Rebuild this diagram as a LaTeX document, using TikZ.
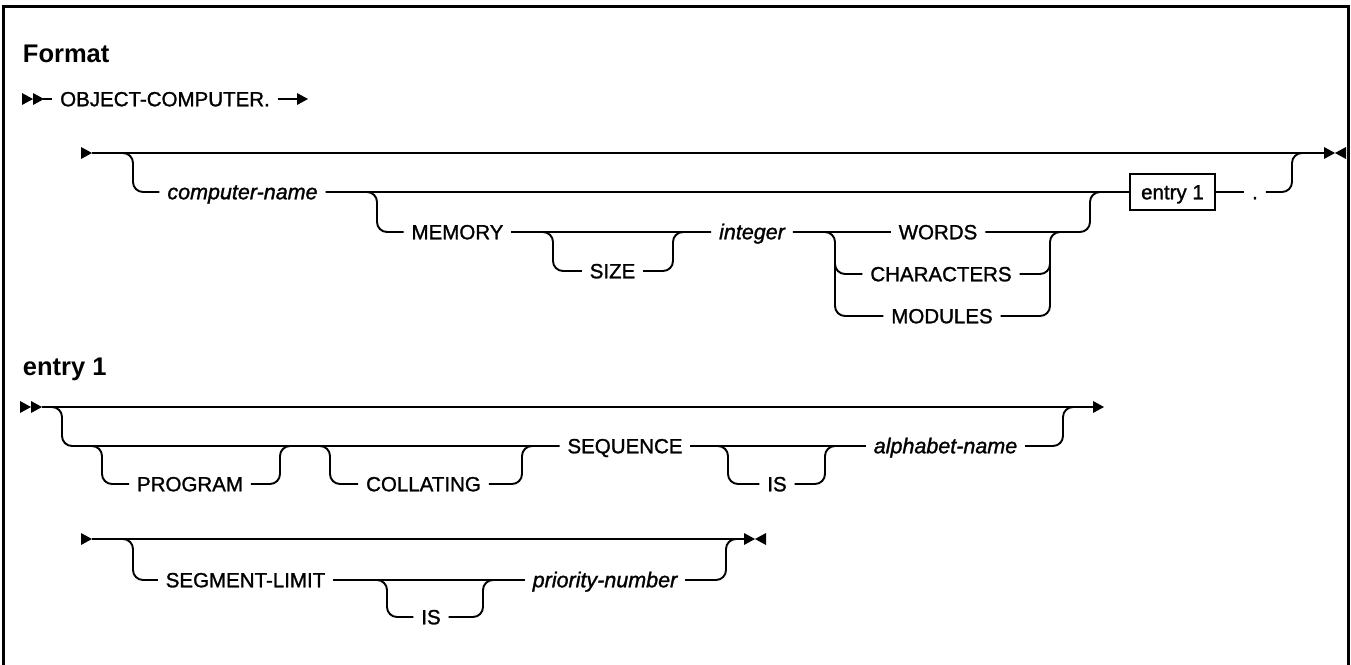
\documentclass[tikz,border=0pt]{standalone}
\usepackage{fontspec}
\setmainfont{Liberation Sans}
\newfontfamily\medfont{Liberation Sans}[FakeBold=1.3]
\begin{document}
\begin{tikzpicture}[x=1pt,y=-1pt,line width=1.9pt,
  lbl/.style={font=\medfont\fontsize{20.5}{24}\selectfont, inner xsep=7pt, inner ysep=0pt, text height=14.5pt, text depth=0pt},
  ilbl/.style={lbl, font=\medfont\fontsize{21.5}{24}\selectfont\itshape},
  head/.style={font=\fontsize{25.5}{30}\selectfont\bfseries, inner sep=0pt, anchor=base west},
  ebox/.style={draw, line width=1.9pt, font=\medfont\fontsize{20.5}{24}\selectfont, inner sep=0pt, minimum width=85pt, minimum height=36pt, text height=14.5pt, text depth=0pt},
  rnd/.style={rounded corners=10pt},
  rtri/.pic={\fill (0,-6) -- (11,0) -- (0,6) -- cycle;},
  ltri/.pic={\fill (11,-6) -- (0,0) -- (11,6) -- cycle;}]
\useasboundingbox (0,0) rectangle (1351,664);
% frame
\draw[line width=3pt] (3.5,675) -- (3.5,6) -- (1348.5,6) -- (1348.5,675);

% ---------- Format ----------
\node[head] (fmt) at (22,62) {Format};
\pic at (22,99) {rtri}; \pic at (33,99) {rtri};
\node[lbl] (oc) at (165,99) {OBJECT-COMPUTER.};
\coordinate (ocs) at (43,99);
\coordinate (oce) at (297,99);
\draw (ocs) -- (oc.west);
\draw (oc.east) -- (oce); \pic at (oce) {rtri};

\pic at (81,153) {rtri};
\coordinate (s1) at (92,153);
\coordinate (e1) at (1324,153);
\draw (s1) -- (e1); \pic at (e1) {rtri}; \pic at (1335,153) {ltri};

\node[ilbl] (cn) at (242.5,192) {computer-name};
\node[ebox] (ebx) at (1172.5,192) {entry 1};
\node[lbl] (mem) at (457.5,232) {MEMORY};
\node[lbl] (size) at (612.5,271) {SIZE};
\node[ilbl] (int) at (752,232) {integer};
\node[lbl] (words) at (938,232) {WORDS};
\node[lbl] (chars) at (941,274) {CHARACTERS};
\node[lbl] (mods) at (942,316) {MODULES};
\node[lbl, minimum width=20pt, inner xsep=0pt] (dot) at (1255,192) {.};

\draw[rnd] (s1) -- (133,153) -- (133,192) -- (cn.west);
\draw (cn.east) -- (ebx.west);
\draw[rnd] (cn.east) -- (377,192) -- (377,232) -- (mem.west);
\draw (mem.east) -- (int.west);
\draw[rnd] (mem.east) -- (553,232) -- (553,271) -- (size.west);
\draw[rnd] (size.east) -- (673,271) -- (673,232) -- (int.west);
\draw (int.east) -- (words.west);
\draw[rnd] (int.east) -- (835,232) -- (835,316) -- (mods.west);
\draw[rnd] (835,250) -- (835,274) -- (chars.west);
\draw[rnd] (mods.east) -- (1050,316) -- (1050,232) -- (1070,232);
\draw[rnd] (chars.east) -- (1050,274) -- (1050,255);
\draw[rnd] (words.east) -- (1090,232) -- (1090,192) -- (ebx.west);
\draw (ebx.east) -- (dot.west);
\draw[rnd] (dot.east) -- (1292,192) -- (1292,153) -- (e1);

% ---------- entry 1 ----------
\node[head] (ent) at (22,375) {entry 1};
\pic at (20,407) {rtri}; \pic at (31,407) {rtri};
\coordinate (s2) at (42,407);
\coordinate (e2) at (1093,407);
\draw (s2) -- (e2); \pic at (e2) {rtri};

\node[lbl] (prog) at (190,484) {PROGRAM};
\node[lbl] (coll) at (423.5,484) {COLLATING};
\node[lbl] (seq) at (625,446) {SEQUENCE};
\node[lbl] (is1) at (777,484) {IS};
\node[ilbl] (alpha) at (945.5,446) {alphabet-name};

\draw[rnd] (s2) -- (62,407) -- (62,446) -- (seq.west);
\draw[rnd] (80,446) -- (102,446) -- (102,484) -- (prog.west);
\draw[rnd] (prog.east) -- (280,484) -- (280,446) -- (300,446);
\draw[rnd] (310,446) -- (330,446) -- (330,484) -- (coll.west);
\draw[rnd] (coll.east) -- (522,484) -- (522,446) -- (540,446);
\draw (seq.east) -- (alpha.west);
\draw[rnd] (seq.east) -- (728,446) -- (728,484) -- (is1.west);
\draw[rnd] (is1.east) -- (825,484) -- (825,446) -- (alpha.west);
\draw[rnd] (alpha.east) -- (1063,446) -- (1063,407) -- (e2);

\pic at (81,539) {rtri};
\coordinate (s3) at (92,539);
\coordinate (e3) at (744,539);
\draw (s3) -- (e3); \pic at (e3) {rtri}; \pic at (755,539) {ltri};

\node[lbl] (seg) at (245.5,580) {SEGMENT-LIMIT};
\node[lbl] (is2) at (431,617) {IS};
\node[ilbl] (pri) at (605,580) {priority-number};

\draw[rnd] (s3) -- (133,539) -- (133,580) -- (seg.west);
\draw (seg.east) -- (pri.west);
\draw[rnd] (seg.east) -- (387,580) -- (387,617) -- (is2.west);
\draw[rnd] (is2.east) -- (483,617) -- (483,580) -- (pri.west);
\draw[rnd] (pri.east) -- (726,580) -- (726,539) -- (e3);
\end{tikzpicture}
\end{document}
